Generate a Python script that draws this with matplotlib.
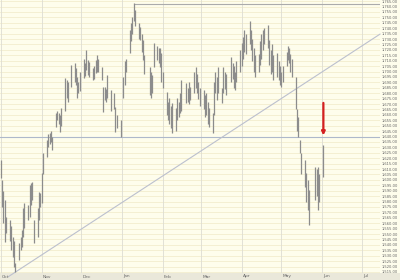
import matplotlib
matplotlib.use("Agg")
import matplotlib.pyplot as plt
import matplotlib.dates as mdates
from matplotlib.patches import Rectangle
from datetime import datetime

# ---- data -------------------------------------------------------------
trading_days = {
    (2007, 10): [1, 2, 3, 4, 5, 8, 9, 10, 11, 12, 15, 16, 17, 18, 19, 22, 23, 24, 25, 26, 29, 30, 31],
    (2007, 11): [1, 2, 5, 6, 7, 8, 9, 12, 13, 14, 15, 16, 19, 20, 21, 23, 26, 27, 28, 29, 30],
    (2007, 12): [3, 4, 5, 6, 7, 10, 11, 12, 13, 14, 17, 18, 19, 20, 21, 24, 26, 27, 28, 31],
    (2008, 1): [2, 3, 4, 7, 8, 9, 10, 11, 14, 15, 16, 17, 18, 22, 23, 24, 25, 28, 29, 30, 31],
    (2008, 2): [1, 4, 5, 6, 7, 8, 11, 12, 13, 14, 15, 19, 20, 21, 22, 25, 26, 27, 28, 29],
    (2008, 3): [3, 4, 5, 6, 7, 10, 11, 12, 13, 14, 17, 18, 19, 20, 24, 25, 26, 27, 28, 31],
    (2008, 4): [1, 2, 3, 4, 7, 8, 9, 10, 11, 14, 15, 16, 17, 18, 21, 22, 23, 24, 25, 28, 29, 30],
    (2008, 5): [1, 2, 5, 6, 7, 8, 9, 12, 13, 14, 15, 16, 19, 20, 21, 22, 27, 28, 29, 30],
    (2008, 6): [2],
}

highs = [
    # Oct
    1618, 1600, 1590, 1581, 1566, 1563, 1557, 1547, 1544, 1523, 1542, 1547, 1554, 1574, 1579,
    1577, 1595, 1597, 1598, 1563, 1574, 1589, 1588,
    # Nov
    1606, 1625, 1637, 1642, 1643, 1645, 1640, 1662, 1664, 1662, 1660, 1666, 1694, 1692, 1690,
    1706, 1708, 1703, 1695, 1690, 1700,
    # Dec
    1712, 1708, 1720, 1711, 1709, 1703, 1705, 1711, 1715, 1712, 1704, 1686, 1686, 1684, 1697,
    1683, 1680, 1667, 1660, 1655,
    # Jan
    1695, 1710, 1712, 1738, 1745, 1750, 1763, 1757, 1745, 1741, 1735, 1729, 1715, 1704, 1700,
    1697, 1726, 1724, 1722, 1722, 1717,
    # Feb
    1700, 1681, 1672, 1676, 1668, 1671, 1666, 1676, 1672, 1680, 1692, 1689, 1685, 1690, 1686,
    1700, 1704, 1698, 1690, 1685,
    # Mar
    1683, 1678, 1680, 1672, 1666, 1662, 1690, 1700, 1695, 1704, 1685, 1704, 1700, 1698, 1713,
    1708, 1705, 1700, 1710, 1720,
    # Apr
    1726, 1732, 1738, 1735, 1747, 1738, 1730, 1722, 1715, 1716, 1728, 1735, 1738, 1740, 1743,
    1729, 1720, 1725, 1715, 1717, 1710, 1705,
    # May
    1700, 1705, 1718, 1724, 1722, 1716, 1712, 1695, 1665, 1658, 1637, 1625, 1618, 1606, 1600,
    1591, 1612, 1610, 1612, 1605,
    # Jun
    1632,
]

lows = [
    # Oct
    1602, 1575, 1560, 1543, 1551, 1544, 1535, 1529, 1520, 1515, 1526, 1535, 1538, 1547, 1556,
    1563, 1566, 1577, 1581, 1542, 1547, 1563, 1575,
    # Nov
    1579, 1605, 1621, 1630, 1633, 1635, 1628, 1649, 1655, 1652, 1644, 1650, 1664, 1676, 1672,
    1686, 1690, 1688, 1676, 1680, 1682,
    # Dec
    1694, 1696, 1701, 1697, 1695, 1692, 1693, 1699, 1700, 1700, 1692, 1663, 1674, 1672, 1676,
    1664, 1665, 1644, 1648, 1640,
    # Jan
    1676, 1688, 1700, 1717, 1728, 1735, 1747, 1742, 1730, 1729, 1718, 1711, 1698, 1678, 1676,
    1680, 1704, 1711, 1708, 1704, 1690,
    # Feb
    1685, 1660, 1655, 1652, 1648, 1643, 1645, 1655, 1658, 1662, 1664, 1671, 1672, 1670, 1674,
    1680, 1685, 1680, 1675, 1668,
    # Mar
    1665, 1658, 1660, 1652, 1649, 1643, 1660, 1680, 1674, 1680, 1671, 1680, 1684, 1678, 1690,
    1693, 1685, 1683, 1690, 1700,
    # Apr
    1705, 1712, 1718, 1716, 1725, 1720, 1710, 1700, 1695, 1700, 1706, 1712, 1720, 1725, 1722,
    1706, 1698, 1700, 1692, 1695, 1692, 1688,
    # May
    1686, 1690, 1705, 1711, 1708, 1700, 1695, 1665, 1645, 1640, 1625, 1605, 1593, 1580, 1572,
    1558, 1581, 1585, 1572, 1580,
    # Jun
    1603,
]

y_ticks = list(range(1515, 1766, 5))
month_labels = ["Oct", "Nov", "Dec", "Jan", "Feb", "Mar", "Apr", "May", "Jun", "Jul"]
month_starts = [(2007, 10), (2007, 11), (2007, 12), (2008, 1), (2008, 2), (2008, 3),
                (2008, 4), (2008, 5), (2008, 6), (2008, 7)]

resistance_level = 1640
top_level = 1762
trend_start = (datetime(2007, 10, 7), 1510.8)
trend_end = (datetime(2008, 7, 15), 1734.5)
top_line_start = datetime(2008, 1, 10)
arrow_date = datetime(2008, 6, 2)
arrow_from, arrow_to = 1671, 1641

# ---- build ------------------------------------------------------------
dates = [datetime(y, m, d) for (y, m), days in trading_days.items() for d in days]
x = mdates.date2num(dates)

W, H = 400, 280
fig = plt.figure(figsize=(W / 100, H / 100), dpi=100)
fig.patch.set_facecolor("#FEFDEC")
fig.patches.append(Rectangle((0, 0), 1, 7 / H, transform=fig.transFigure,
                             facecolor="#EAE8DA", edgecolor="none", zorder=-5))

ax = fig.add_axes([0, 7 / H, 380 / W, 273 / H])
ax.set_facecolor("#FEFDEC")
x0 = mdates.date2num(datetime(2007, 10, 1)) - 0.6
x1 = mdates.date2num(datetime(2008, 7, 15))
ax.set_xlim(x0, x1)
ax.set_ylim(1514, 1766)

for s in ax.spines.values():
    s.set_visible(False)

for v in y_ticks:
    ax.axhline(v, color="#F3EDCE", lw=0.6, zorder=1)
for (yy, mm) in month_starts:
    ax.axvline(mdates.date2num(datetime(yy, mm, 1)), color="#DDDCD2", lw=0.6, zorder=1)

ax.vlines(x, lows, highs, color="#8C8C8C", lw=0.9, zorder=3)

ax.axhline(resistance_level, color="#AEB8CA", lw=0.8, zorder=2)
ax.plot([mdates.date2num(top_line_start), x1], [top_level, top_level],
        color="#ABABAB", lw=0.8, zorder=2)
ax.plot([mdates.date2num(trend_start[0]), mdates.date2num(trend_end[0])],
        [trend_start[1], trend_end[1]], color="#BCC0CE", lw=0.8, zorder=2, clip_on=False)

ax.annotate("", xy=(mdates.date2num(arrow_date), arrow_to),
            xytext=(mdates.date2num(arrow_date), arrow_from),
            arrowprops=dict(arrowstyle="-|>", color="#D42020", lw=1.6,
                            mutation_scale=5, shrinkA=0, shrinkB=0), zorder=5)

ax.set_xticks([])
ax.yaxis.tick_right()
ax.set_yticks(y_ticks)
ax.set_yticklabels([f"{v:,.2f}" for v in y_ticks], fontsize=2.6, color="#666666")
ax.tick_params(axis="y", length=0, pad=1.5)

# month labels in the bottom band (figure-level text so it sits above the band)
to_fig = ax.transData + fig.transFigure.inverted()
for lab, (yy, mm) in zip(month_labels, month_starts):
    fx, _ = to_fig.transform((mdates.date2num(datetime(yy, mm, 1)) + 1, 1600))
    fig.text(fx, 3.5 / H, lab, fontsize=3.2, color="#666666", ha="left", va="center", zorder=10)

fig.savefig("out.png", dpi=100, facecolor=fig.get_facecolor())
